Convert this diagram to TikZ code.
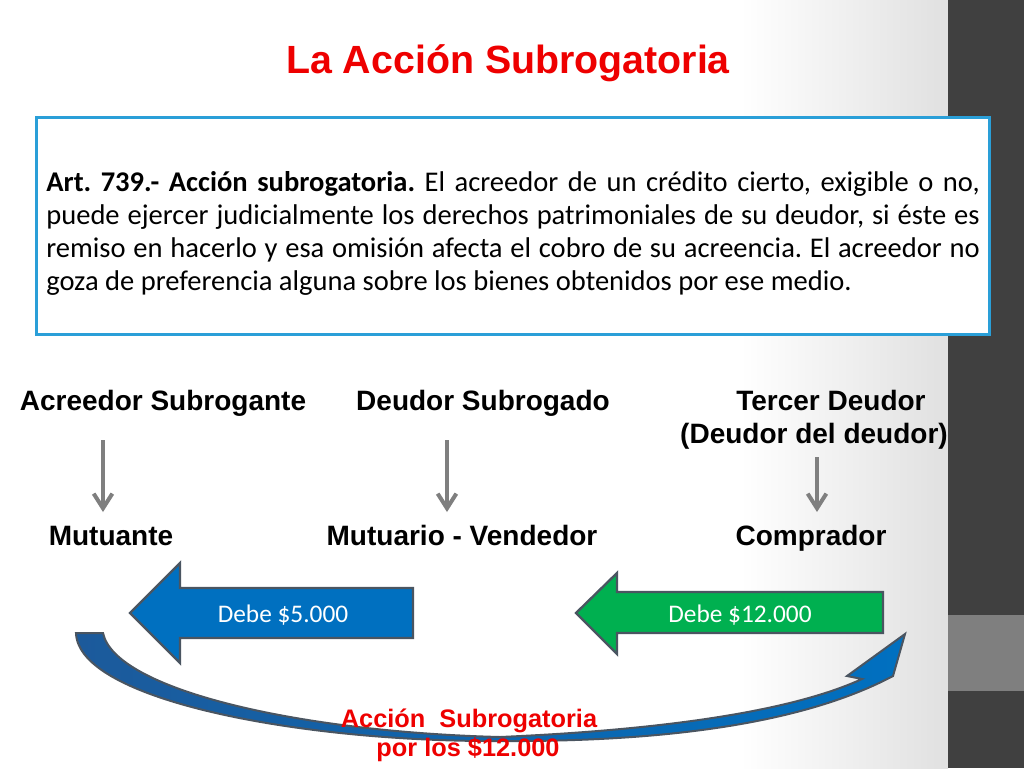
\documentclass[tikz,border=0pt]{standalone}
\usepackage{fontspec}
\setmainfont{Carlito}
\newfontfamily\arialfont{Liberation Sans}
\usetikzlibrary{arrows.meta}
\frenchspacing
\definecolor{slidered}{HTML}{EE0000}
\definecolor{boxblue}{HTML}{2A9FD8}
\definecolor{barbgray}{HTML}{7F7F7F}
\definecolor{edgegray}{HTML}{4A5561}
\definecolor{debtblue}{HTML}{0070C0}
\definecolor{debtgreen}{HTML}{00B050}
\definecolor{curveblue}{HTML}{1C5A9B}
\definecolor{bardark}{HTML}{404040}
\definecolor{barlight}{HTML}{7F7F7F}
\tikzstyle{party} = [anchor=base, inner sep=0pt, font=\arialfont\bfseries\fontsize{21}{25}\selectfont]
\tikzstyle{link} = [line width=3pt, draw=barbgray, -{Straight Barb[length=11pt,width=14pt]}]
\tikzstyle{debt} = [draw=edgegray, line width=1.75pt, line join=miter]
\tikzstyle{amount} = [anchor=base, inner sep=0pt, text=white, font=\fontsize{19}{22}\selectfont]
\tikzstyle{redtext} = [anchor=base, inner sep=0pt, text=slidered, font=\arialfont\bfseries\fontsize{19}{22}\selectfont]

\begin{document}
\begin{tikzpicture}[x=0.75pt,y=-0.75pt]
\useasboundingbox (0,0) rectangle (1024,768);
% background and side bar
\fill[white] (0,0) rectangle (1024,768);
\shade[left color=white, right color=black!12] (740,0) rectangle (948,768);
\fill[bardark] (948,0) rectangle (1024,768);
\fill[barlight] (948,615) rectangle (1024,691);

\node[anchor=base, text=slidered, font=\arialfont\bfseries\fontsize{29.5}{35}\selectfont] (title) at (508,73) {La Acción Subrogatoria};

\node[draw=boxblue, line width=2.25pt, fill=white, minimum width=715pt, minimum height=163pt,
      text width=700pt, align=justify, font=\fontsize{21.4}{24.75}\selectfont] (art) at (513,226)
 {\rule{0pt}{26pt}\textbf{Art. 739.- Acción subrogatoria.} El acreedor de un crédito cierto, exigible o no,\linebreak
  puede ejercer judicialmente los derechos patrimoniales de su deudor, si éste es\linebreak
  remiso en hacerlo y esa omisión afecta el cobro de su acreencia. El acreedor no\linebreak
  goza de preferencia alguna sobre los bienes obtenidos por ese medio.};

% the three parties
\node[party] (acr) at (163,410) {Acreedor Subrogante};
\node[party] (deu) at (483,410) {Deudor Subrogado};
\node[party] (ter) at (831,410) {Tercer Deudor};
\node[party] (terb) at (814,443) {(Deudor del deudor)};
\node[party] (mut) at (111,545) {Mutuante};
\node[party] (muv) at (462,545) {Mutuario - Vendedor};
\node[party] (com) at (811,545) {Comprador};

\coordinate (acrA) at (103,440);
\coordinate (acrB) at (103,512);
\coordinate (deuA) at (447,440);
\coordinate (deuB) at (447,512);
\coordinate (terA) at (817,457);
\coordinate (terB) at (817,512);
\draw[link] (acrA) -- (acrB);
\draw[link] (deuA) -- (deuB);
\draw[link] (terA) -- (terB);

% debts
\draw[debt, fill=debtblue] (413,588) -- (180,588) -- (180,563) -- (130,613) -- (180,663) -- (180,638) -- (413,638) -- cycle;
\node[amount] (debeA) at (283,622) {Debe \$5.000};
\draw[debt, fill=debtgreen] (883,592) -- (617,592) -- (617,573) -- (576,613) -- (617,654) -- (617,633) -- (883,633) -- cycle;
\node[amount] (debeB) at (740,622) {Debe \$12.000};

% curved arrow
\draw[draw=edgegray, line width=1.5pt, line join=miter, left color=curveblue, right color=debtblue]
  (76,633) .. controls (78,700) and (300,742) .. (500,741)
  .. controls (680,742) and (810,720) .. (893,676)
  -- (905,634) -- (847,676) -- (862,679)
  .. controls (790,712) and (660,730) .. (500,737)
  .. controls (300,732) and (115,690) .. (103,633) -- cycle;

\node[redtext] (accion) at (469,727) {Acción\ \ Subrogatoria};
\node[redtext] (monto) at (468,756) {por los \$12.000};
\end{tikzpicture}
\end{document}
